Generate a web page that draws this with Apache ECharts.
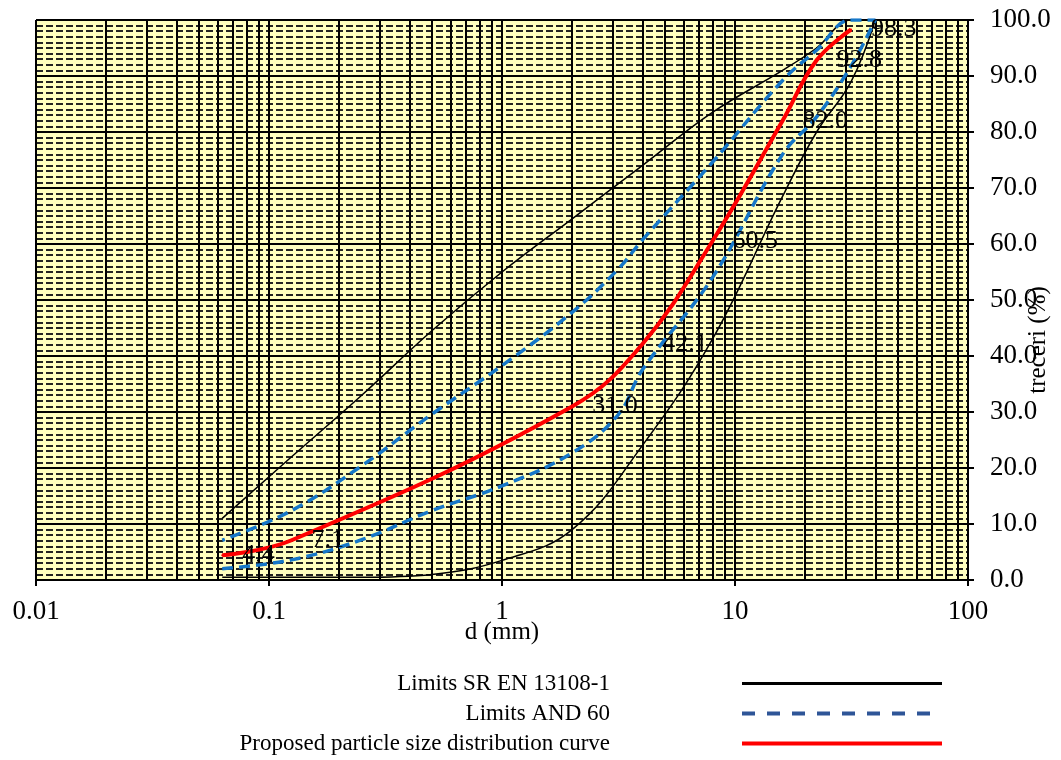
<!DOCTYPE html>
<html><head><meta charset="utf-8">
<script src="https://cdn.jsdelivr.net/npm/echarts@6/dist/echarts.min.js"></script>
<style>html,body{margin:0;padding:0;background:#fff}#c{width:1061px;height:760px}</style>
</head><body><div id="c"></div>
<script>
// ---- data ----
const xTickLabels = ['0.01', '0.1', '1', '10', '100'];
// SR EN 13108-1 limits: lower limit (ascending sieve), then upper limit (descending sieve)
const srLowerD = [0.063, 0.125, 0.25, 0.5, 1, 2, 4, 8, 16, 22.4, 31.5, 40];
const srLowerP = [0.5, 0.5, 0.5, 1, 3.5, 9, 24, 43, 68.5, 80, 89, 100];
const srUpperD = [31.5, 22.4, 16, 8, 4, 2, 1, 0.5, 0.25, 0.125, 0.063];
const srUpperP = [100, 95, 91, 83.5, 74, 64.5, 55, 44.5, 33, 22, 11];
// AND 60 limits
const andLowerD = [0.063, 0.125, 0.25, 0.5, 1, 2, 3.15, 4, 8, 16, 22.4, 31.5, 40];
const andLowerP = [2, 3.6, 7.2, 12.4, 16.8, 22.7, 29.5, 37.5, 54, 76, 82.7, 91.8, 100];
const andUpperD = [31.5, 22.4, 16, 8, 4, 3.15, 2, 1, 0.5, 0.25, 0.125, 0.063];
const andUpperP = [100, 94.6, 89.2, 74.6, 60.7, 55.5, 47.8, 38.3, 29.6, 20.4, 12.4, 7.1];
// Proposed curve
const propD = [0.063, 0.125, 2, 4, 8, 16, 22.4, 31.5];
const propP = [4.4, 7.1, 31.0, 42.1, 60.5, 82.0, 92.8, 98.3];

const names = ['Limits SR EN 13108-1', 'Limits AND 60', 'Proposed particle size distribution curve'];

function pairs(d, p) { return d.map((v, i) => [v, p[i]]); }
const srData = pairs(srLowerD, srLowerP).concat(pairs(srUpperD, srUpperP));
const andData = pairs(andLowerD, andLowerP).concat(pairs(andUpperD, andUpperP));
const propData = pairs(propD, propP);

// vertical log grid lines at 2..9 x each decade
const minorX = [];
for (let e = -2; e < 2; e++) for (let m = 2; m <= 9; m++) minorX.push(+(m * Math.pow(10, e)).toPrecision(3));

const FONT = 'Liberation Serif';
const chart = echarts.init(document.getElementById('c'));
chart.setOption({
  animation: false,
  backgroundColor: '#ffffff',
  grid: { left: 36, right: 93, top: 20, bottom: 180, show: true, backgroundColor: '#FFFFBF', borderWidth: 0,
    containLabel: false, outerBoundsMode: 'none' },
  xAxis: {
    type: 'log', logBase: 10, min: 0.01, max: 100,
    name: 'd (mm)', nameLocation: 'middle', nameGap: 40, nameMoveOverlap: false,
    nameTextStyle: { fontFamily: FONT, fontSize: 25, color: '#000' },
    axisLine: { show: true, lineStyle: { color: '#000', width: 2 } },
    axisTick: { show: true, length: 6, lineStyle: { color: '#000', width: 2 } },
    axisLabel: { fontFamily: FONT, fontSize: 27, color: '#000', margin: 18,
      formatter: (v, i) => xTickLabels[i] },
    splitLine: { show: true, lineStyle: { color: '#000', width: 2 } },
    minorTick: { show: false }, minorSplitLine: { show: false }
  },
  yAxis: {
    type: 'value', position: 'right', min: 0, max: 100, interval: 10,
    name: 'treceri (%)', nameLocation: 'middle', nameRotate: 90, nameGap: 58, nameMoveOverlap: false,
    nameTextStyle: { fontFamily: FONT, fontSize: 25, color: '#000', padding: [0, 80, 0, 0] },
    axisLine: { show: true, lineStyle: { color: '#000', width: 2 } },
    axisTick: { show: true, length: 6, lineStyle: { color: '#000', width: 2 } },
    axisLabel: { fontFamily: FONT, fontSize: 27, color: '#000', margin: 22, formatter: v => v.toFixed(1) },
    splitLine: { show: true, lineStyle: { color: '#000', width: 2 } },
    minorTick: { show: false, splitNumber: 10 },
    minorSplitLine: { show: true, lineStyle: { color: '#222', width: 2, type: [7, 3] } }
  },
  legend: {
    orient: 'vertical', align: 'right', right: 117, top: 672, padding: 0,
    itemWidth: 200, itemHeight: 14, itemGap: 7,
    itemStyle: { opacity: 0 },
    textStyle: { fontFamily: FONT, fontSize: 23, color: '#000', lineHeight: 23, padding: [0, 127, 0, 0] },
    data: [
      { name: names[0], lineStyle: { width: 3, color: '#000' } },
      { name: names[1], lineStyle: { width: 4, color: '#2E5597', type: [13, 12] } },
      { name: names[2], lineStyle: { width: 4, color: '#FF0000' } }
    ]
  },
  series: [
    {
      name: 'grid', type: 'line', data: [], silent: true,
      markLine: { silent: true, symbol: 'none', z: 1, label: { show: false },
        lineStyle: { color: '#000', width: 2, type: 'solid' },
        emphasis: { disabled: true },
        data: minorX.map(v => ({ xAxis: v })) }
    },
    {
      name: names[0], type: 'line', data: srData, smooth: 0.4, symbol: 'none', z: 3,
      lineStyle: { color: '#000', width: 1.5 }, itemStyle: { color: '#000' }
    },
    {
      name: names[1], type: 'line', data: andData, smooth: 0.4, symbol: 'none', z: 4,
      lineStyle: { color: '#1677C8', width: 3.5, type: [11, 6] }, itemStyle: { color: '#1677C8' }
    },
    {
      name: names[2], type: 'line', data: propData, smooth: 0.4, z: 5,
      symbol: 'circle', symbolSize: 2,
      lineStyle: { color: '#FF0000', width: 4 }, itemStyle: { color: '#FF0000' },
      label: { show: true, position: 'right', distance: 19, fontFamily: FONT, fontSize: 26, color: '#000',
        formatter: p => p.value[1].toFixed(1) }
    }
  ]
});
</script>
</body></html>
